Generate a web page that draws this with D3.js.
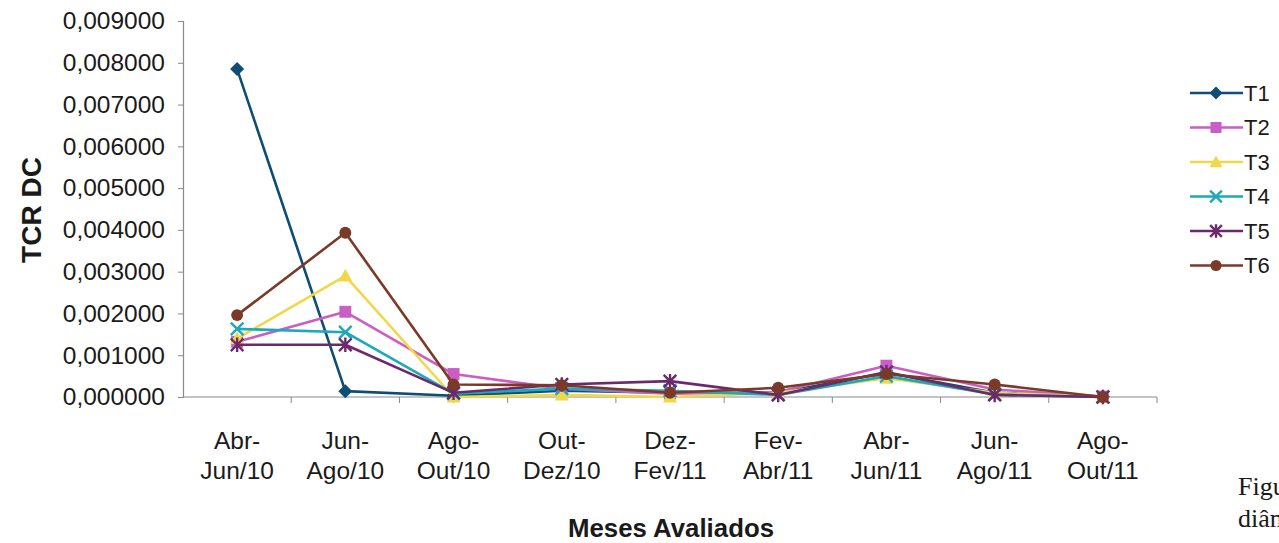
<!DOCTYPE html>
<html>
<head>
<meta charset="utf-8">
<script src="https://cdn.jsdelivr.net/npm/d3@7"></script>
<style>
  html, body { margin: 0; padding: 0; background: #fff; overflow: hidden; }
  svg { display: block; }
</style>
</head>
<body>
<svg id="chart" width="1279" height="543"></svg>
<script>
// Periods evaluated (two-line labels)
const categories = ["Abr-\nJun/10", "Jun-\nAgo/10", "Ago-\nOut/10", "Out-\nDez/10", "Dez-\nFev/11",
                    "Fev-\nAbr/11", "Abr-\nJun/11", "Jun-\nAgo/11", "Ago-\nOut/11"];

// Relative growth rate of stem diameter per treatment
const T1 = [0.00785, 0.00014, 0.00003, 0.00015, 0.00010, 0.00010, 0.00058, 0.00010, 0.00001];
const T2 = [0.00132, 0.00204, 0.00055, 0.00020, 0.00008, 0.00012, 0.00075, 0.00018, 0.00001];
const T3 = [0.00140, 0.00290, 0.00000, 0.00005, 0.00000, 0.00010, 0.00045, 0.00010, 0.00000];
const T4 = [0.00163, 0.00155, 0.00008, 0.00020, 0.00015, 0.00005, 0.00050, 0.00006, 0.00000];
const T5 = [0.00125, 0.00125, 0.00010, 0.00030, 0.00038, 0.00005, 0.00060, 0.00005, 0.00000];
const T6 = [0.00196, 0.00393, 0.00030, 0.00028, 0.00010, 0.00022, 0.00055, 0.00030, 0.00000];

const seriesNames = ["T1", "T2", "T3", "T4", "T5", "T6"];
const seriesValues = [T1, T2, T3, T4, T5, T6];
const yTicks = [0, 0.001, 0.002, 0.003, 0.004, 0.005, 0.006, 0.007, 0.008, 0.009];

const colors = ["#0f4d74", "#c95fc4", "#f1d84a", "#1ba9bb", "#6b2a6c", "#7b3a27"];
const shapes = ["diamond", "square", "triangle", "x", "star", "circle"];

const svg = d3.select("#chart");
const plotLeft = 183, plotRight = 1157, plotTop = 21, plotBottom = 397;

const x = d3.scaleBand().domain(categories).range([plotLeft, plotRight]).paddingInner(0).paddingOuter(0);
const y = d3.scaleLinear().domain([0, 0.009]).range([plotBottom, plotTop]);

const fontMain = "Arial, 'Liberation Sans', sans-serif";
const fmt = v => d3.format(".6f")(v).replace(".", ",");

// Y axis
const yAxis = svg.append("g")
  .attr("transform", `translate(${plotLeft},0)`)
  .call(d3.axisLeft(y).tickValues(yTicks).tickFormat(fmt).tickSize(5).tickPadding(13));
yAxis.select(".domain").attr("stroke", "#8a8a8a").attr("stroke-width", 1.2);
yAxis.selectAll(".tick line").attr("stroke", "#8a8a8a");
yAxis.selectAll(".tick text")
  .attr("font-family", fontMain).attr("font-size", 24.5).attr("fill", "#1a1a1a");

// X axis: ticks on category boundaries
const bounds = categories.map(c => x(c)).concat([plotRight]);
const xAxisG = svg.append("g");
xAxisG.append("line")
  .attr("x1", plotLeft).attr("x2", plotRight).attr("y1", plotBottom).attr("y2", plotBottom)
  .attr("stroke", "#8a8a8a").attr("stroke-width", 1.2);
xAxisG.selectAll("line.tk").data(bounds.slice(1)).join("line")
  .attr("class", "tk")
  .attr("x1", d => d).attr("x2", d => d)
  .attr("y1", plotBottom).attr("y2", plotBottom + 6)
  .attr("stroke", "#8a8a8a");

const xl = svg.append("g").selectAll("text").data(categories).join("text")
  .attr("text-anchor", "middle")
  .attr("font-family", fontMain).attr("font-size", 24.5).attr("fill", "#1a1a1a")
  .attr("x", d => x(d) + x.bandwidth() / 2)
  .attr("y", 449);
xl.each(function (d) {
  const parts = d.split("\n");
  const t = d3.select(this);
  t.append("tspan").attr("x", x(d) + x.bandwidth() / 2).attr("dy", 0).text(parts[0]);
  t.append("tspan").attr("x", x(d) + x.bandwidth() / 2).attr("dy", 30).text(parts[1]);
});

// Axis titles
svg.append("text")
  .attr("transform", `translate(41,210) rotate(-90)`)
  .attr("text-anchor", "middle")
  .attr("font-family", fontMain).attr("font-weight", "bold").attr("font-size", 28)
  .attr("fill", "#1a1a1a")
  .text("TCR DC");

svg.append("text")
  .attr("x", 671).attr("y", 537)
  .attr("text-anchor", "middle")
  .attr("font-family", "'Liberation Sans Narrow', 'Arial Narrow', Arial, sans-serif")
  .attr("font-weight", "bold").attr("font-size", 26).attr("fill", "#1a1a1a")
  .attr("textLength", 206).attr("lengthAdjust", "spacingAndGlyphs")
  .text("Meses Avaliados");

// Marker drawing
function drawMarker(g, shape, color, cx, cy, s) {
  if (shape === "diamond") {
    g.append("path").attr("d", `M${cx},${cy - s}L${cx + s},${cy}L${cx},${cy + s}L${cx - s},${cy}Z`).attr("fill", color);
  } else if (shape === "square") {
    g.append("rect").attr("x", cx - s * 0.85).attr("y", cy - s * 0.85)
      .attr("width", s * 1.7).attr("height", s * 1.7).attr("fill", color);
  } else if (shape === "triangle") {
    g.append("path").attr("d", `M${cx},${cy - s}L${cx + s},${cy + s * 0.8}L${cx - s},${cy + s * 0.8}Z`).attr("fill", color);
  } else if (shape === "x") {
    const r = s * 0.9;
    g.append("path").attr("d", `M${cx - r},${cy - r}L${cx + r},${cy + r}M${cx - r},${cy + r}L${cx + r},${cy - r}`)
      .attr("stroke", color).attr("stroke-width", 2.4).attr("fill", "none");
  } else if (shape === "star") {
    const r = s * 0.9;
    g.append("path").attr("d", `M${cx - r},${cy - r}L${cx + r},${cy + r}M${cx - r},${cy + r}L${cx + r},${cy - r}M${cx},${cy - r * 1.15}L${cx},${cy + r * 1.15}`)
      .attr("stroke", color).attr("stroke-width", 2.4).attr("fill", "none");
  } else if (shape === "circle") {
    g.append("circle").attr("cx", cx).attr("cy", cy).attr("r", s * 0.85).attr("fill", color);
  }
}

// Series lines and markers
const line = d3.line().x((d, i) => x(categories[i]) + x.bandwidth() / 2).y(d => y(d));
const plot = svg.append("g");
seriesValues.forEach((vals, si) => {
  const g = plot.append("g");
  g.append("path").datum(vals).attr("d", line)
    .attr("fill", "none").attr("stroke", colors[si]).attr("stroke-width", 2.6)
    .attr("stroke-linejoin", "round");
  vals.forEach((v, i) => {
    drawMarker(g, shapes[si], colors[si], x(categories[i]) + x.bandwidth() / 2, y(v), 7);
  });
});

// Legend
const legend = svg.append("g");
seriesNames.forEach((name, i) => {
  const ly = 93 + i * 34.5;
  const g = legend.append("g");
  g.append("line").attr("x1", 1190).attr("x2", 1243).attr("y1", ly).attr("y2", ly)
    .attr("stroke", colors[i]).attr("stroke-width", 2.4);
  drawMarker(g, shapes[i], colors[i], 1216, ly, 6.5);
  g.append("text").attr("x", 1244).attr("y", ly).attr("dy", "0.35em")
    .attr("font-family", fontMain).attr("font-size", 22).attr("fill", "#1a1a1a")
    .text(name);
});

// Caption lines running past the right edge
svg.append("text").attr("x", 1238).attr("y", 495)
  .attr("font-family", "'Liberation Serif', 'Times New Roman', serif").attr("font-size", 26).attr("fill", "#1a1a1a")
  .text("Figura");
svg.append("text").attr("x", 1238).attr("y", 527)
  .attr("font-family", "'Liberation Serif', 'Times New Roman', serif").attr("font-size", 26).attr("fill", "#1a1a1a")
  .text("diâmetro");
</script>
</body>
</html>
